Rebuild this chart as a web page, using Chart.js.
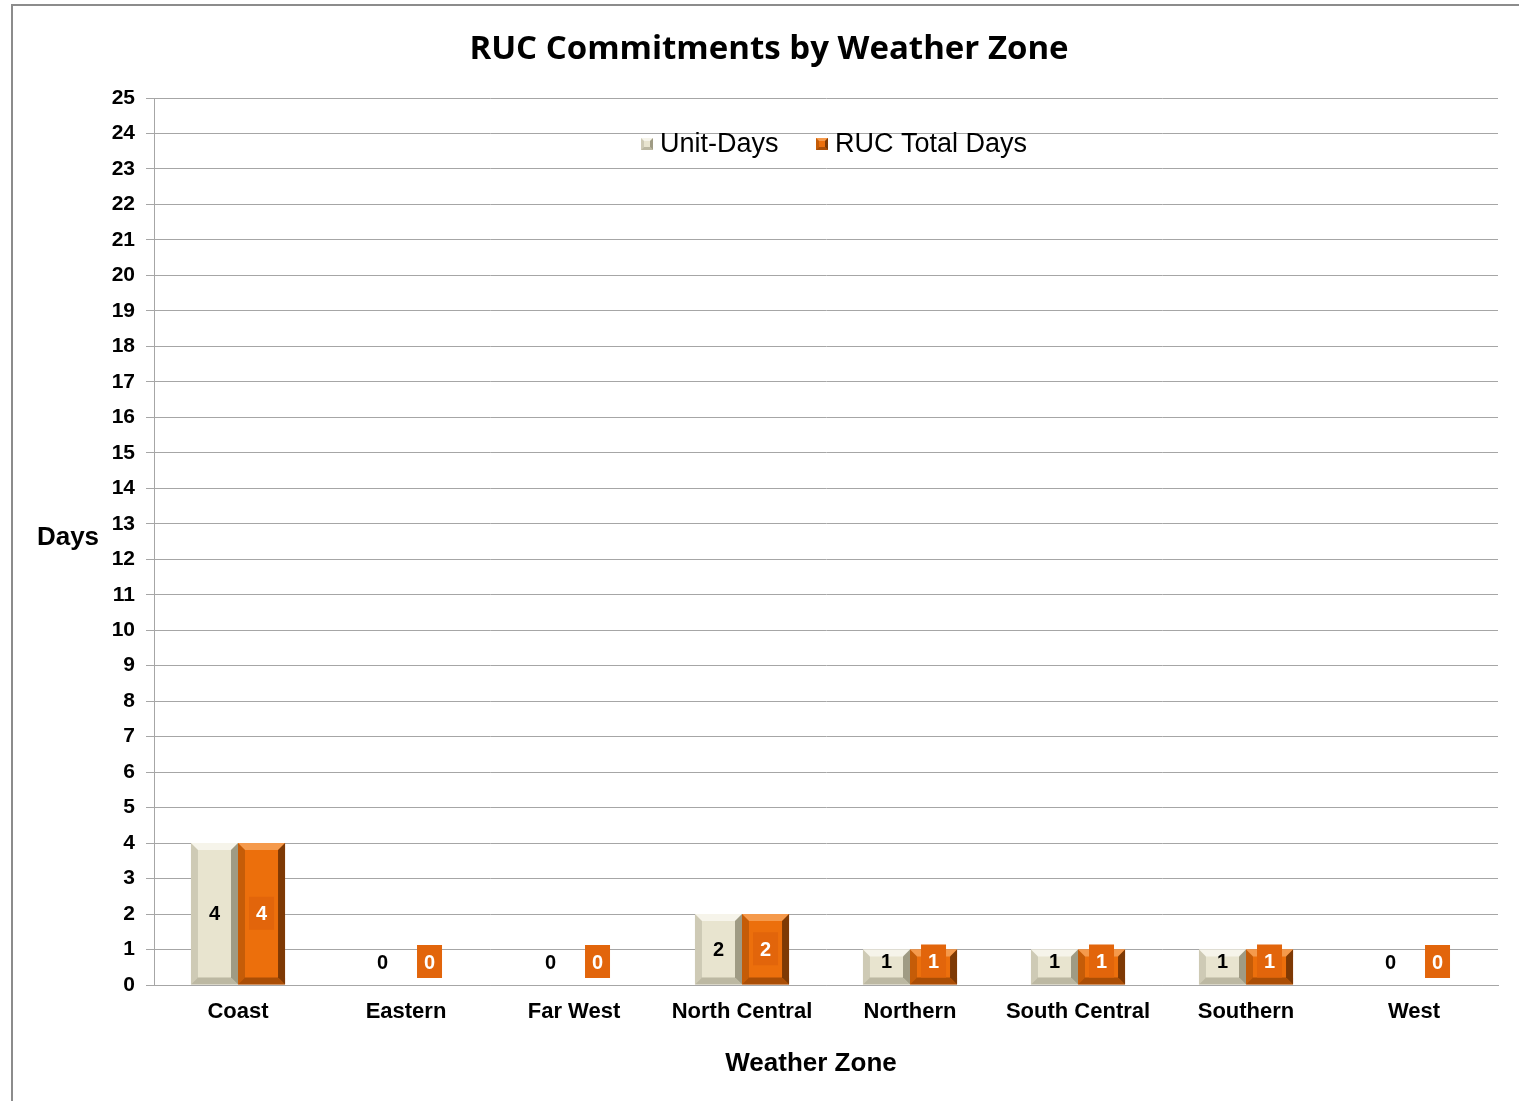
<!DOCTYPE html>
<html>
<head>
<meta charset="utf-8">
<script src="https://cdn.jsdelivr.net/npm/chart.js@4/dist/chart.umd.min.js"></script>
<style>
  html, body { margin: 0; padding: 0; background: #fff; overflow: hidden; }
  #wrap { position: absolute; left: 0; top: 0; }
</style>
</head>
<body>
<div id="wrap"><canvas id="rucChart" width="1540" height="1101"></canvas></div>
<script>
const CATEGORIES = ["Coast", "Eastern", "Far West", "North Central", "Northern", "South Central", "Southern", "West"];
const UNIT_DAYS = [4, 0, 0, 2, 1, 1, 1, 0];
const RUC_TOTAL_DAYS = [4, 0, 0, 2, 1, 1, 1, 0];
const SERIES_NAMES = ["Unit-Days", "RUC Total Days"];
const Y_MAX = 25;

const CHART_TITLE = "RUC Commitments by Weather Zone";
const X_TITLE = "Weather Zone";
const Y_TITLE = "Days";

// face, light edge, dark edge
const BEIGE = ["#e8e4cf", "#f6f4ea", "#9f9b84"];
const ORANGE = ["#ec6f0c", "#f59a4c", "#7e3904"];

function bevel(ctx, x0, y0, x1, y1, b, pal) {
    // top
    ctx.fillStyle = pal[1];
    ctx.beginPath();
    ctx.moveTo(x0, y0); ctx.lineTo(x1, y0); ctx.lineTo(x1 - b, y0 + b); ctx.lineTo(x0 + b, y0 + b);
    ctx.fill();
    // left
    ctx.fillStyle = pal[2];
    ctx.globalAlpha = 0.35;
    ctx.beginPath();
    ctx.moveTo(x0, y0); ctx.lineTo(x0 + b, y0 + b); ctx.lineTo(x0 + b, y1 - b); ctx.lineTo(x0, y1);
    ctx.fill();
    ctx.globalAlpha = 1;
    // right
    ctx.beginPath();
    ctx.moveTo(x1, y0); ctx.lineTo(x1, y1); ctx.lineTo(x1 - b, y1 - b); ctx.lineTo(x1 - b, y0 + b);
    ctx.fill();
    // bottom
    ctx.globalAlpha = 0.6;
    ctx.beginPath();
    ctx.moveTo(x0, y1); ctx.lineTo(x1, y1); ctx.lineTo(x1 - b, y1 - b); ctx.lineTo(x0 + b, y1 - b);
    ctx.fill();
    ctx.globalAlpha = 1;
}

const decorPlugin = {
    id: "decor",
    beforeDraw(chart) {
        const ctx = chart.ctx;
        ctx.save();
        ctx.strokeStyle = "#8c8c8c";
        ctx.lineWidth = 2;
        ctx.beginPath();
        ctx.moveTo(12, 1101);
        ctx.lineTo(12, 5);
        ctx.lineTo(1540, 5);
        ctx.stroke();
        ctx.restore();
    },
    afterDatasetsDraw(chart) {
        const ctx = chart.ctx;
        ctx.save();
        chart.data.datasets.forEach((ds, di) => {
            const meta = chart.getDatasetMeta(di);
            const pal = di === 0 ? BEIGE : ORANGE;
            meta.data.forEach((bar, i) => {
                const x0 = bar.x - bar.width / 2, x1 = bar.x + bar.width / 2;
                const y0 = bar.y, y1 = bar.base;
                if (y1 - y0 > 2) {
                    bevel(ctx, x0, y0, x1, y1, Math.min(7, (y1 - y0) / 3), pal);
                }
                const ly = Math.min((y0 + y1) / 2, y1 - 23);
                if (di === 1) {
                    ctx.fillStyle = "#e2650b";
                    ctx.fillRect(bar.x - 12.5, ly - 17, 25, 33);
                    ctx.fillStyle = "#ffffff";
                } else {
                    ctx.fillStyle = "#000000";
                }
                ctx.font = "bold 20px 'Liberation Sans', Arial, sans-serif";
                ctx.textAlign = "center";
                ctx.textBaseline = "middle";
                ctx.fillText(String(ds.data[i]), bar.x, ly + 1);
            });
        });
        ctx.restore();
    },
    afterDraw(chart) {
        const ctx = chart.ctx;
        ctx.save();
        ctx.fillStyle = "#000";
        ctx.textAlign = "center";
        ctx.textBaseline = "middle";
        ctx.font = "bold 33px 'Open Sans', sans-serif";
        ctx.fillText(CHART_TITLE, 769, 50);
        ctx.font = "bold 26px 'Liberation Sans', Arial, sans-serif";
        ctx.fillText(X_TITLE, 811, 1064);
        ctx.fillText(Y_TITLE, 68, 538);

        // legend inside the plot area
        ctx.font = "27px 'Liberation Sans', Arial, sans-serif";
        ctx.textAlign = "left";
        const marks = [641, 816];
        SERIES_NAMES.forEach((name, k) => {
            const pal = k === 0 ? BEIGE : ORANGE;
            const mx = marks[k], my = 138;
            ctx.fillStyle = pal[0];
            ctx.fillRect(mx, my, 12, 12);
            bevel(ctx, mx, my, mx + 12, my + 12, 3, pal);
            ctx.fillStyle = "#000";
            ctx.fillText(name, mx + 19, 145);
        });
        ctx.restore();
    }
};

const ctx = document.getElementById("rucChart").getContext("2d");
const rucChart = new Chart(ctx, {
    type: "bar",
    data: {
        labels: CATEGORIES,
        datasets: [
            {
                label: SERIES_NAMES[0],
                data: UNIT_DAYS,
                backgroundColor: BEIGE[0],
                borderWidth: 0
            },
            {
                label: SERIES_NAMES[1],
                data: RUC_TOTAL_DAYS,
                backgroundColor: ORANGE[0],
                borderWidth: 0
            }
        ]
    },
    options: {
        responsive: false,
        animation: false,
        events: [],
        categoryPercentage: 0.56,
        barPercentage: 1.0,
        layout: {
            padding: { left: 0, right: 42, top: 98, bottom: 0 }
        },
        scales: {
            x: {
                afterFit(scale) { scale.height = 116; },
                grid: { display: false, drawTicks: false },
                border: { color: "#a6a6a6", width: 1 },
                ticks: {
                    color: "#000",
                    padding: 14,
                    maxRotation: 0,
                    font: { family: "'Liberation Sans', Arial, sans-serif", size: 22, weight: "bold" }
                }
            },
            y: {
                min: 0,
                max: Y_MAX,
                afterFit(scale) { scale.width = 154; },
                grid: { color: "#a6a6a6", lineWidth: 1, tickLength: 8 },
                border: { color: "#a6a6a6", width: 1 },
                ticks: {
                    stepSize: 1,
                    color: "#000",
                    padding: 11,
                    font: { family: "'Liberation Sans', Arial, sans-serif", size: 21, weight: "bold" }
                }
            }
        },
        plugins: {
            legend: { display: false },
            title: { display: false },
            tooltip: { enabled: false }
        }
    },
    plugins: [decorPlugin]
});
</script>
</body>
</html>
